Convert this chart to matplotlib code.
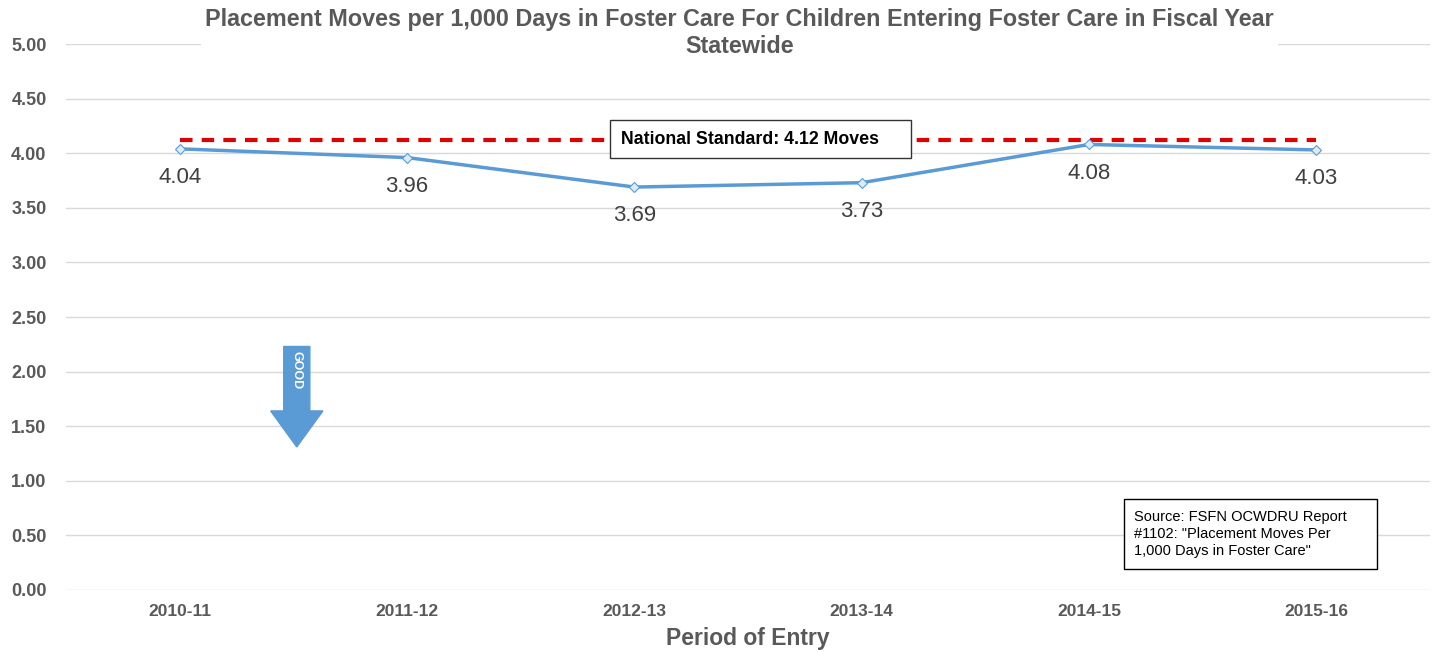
import matplotlib
matplotlib.use("Agg")
import matplotlib.pyplot as plt
from matplotlib.patches import FancyArrow, Rectangle

plt.rcParams['font.family'] = ['Liberation Sans', 'DejaVu Sans']

# ---- data ----
periods = ["2010-11", "2011-12", "2012-13", "2013-14", "2014-15", "2015-16"]
moves = [4.04, 3.96, 3.69, 3.73, 4.08, 4.03]
national_standard = 4.12
y_ticks = [0.0, 0.5, 1.0, 1.5, 2.0, 2.5, 3.0, 3.5, 4.0, 4.5, 5.0]

GRAY = "#595959"
BLUE = "#5B9BD5"

fig = plt.figure(figsize=(14.39, 6.52), dpi=100)
ax = fig.add_axes([0.0459, 0.0951, 0.9478, 0.8374])

x = list(range(len(periods)))
ax.plot(x, [national_standard] * len(x), color="#E00000", lw=3, ls=(0, (3, 2.2)), zorder=3)
ax.plot(x, moves, color=BLUE, lw=2.5, marker="D", ms=5, mfc="#DDEBF7", mec=BLUE, mew=0.8, zorder=4)

for xi, v in zip(x, moves):
    ax.annotate(f"{v:.2f}", (xi, v), xytext=(0, -13), textcoords="offset points",
                ha="center", va="top", fontsize=16, color="#404040")

ax.set_xlim(-0.5, len(periods) - 0.5)
ax.set_ylim(0, 5)
ax.set_yticks(y_ticks)
ax.set_yticklabels([f"{t:.2f}" for t in y_ticks], fontsize=13, fontweight="bold", color=GRAY)
ax.set_xticks(x)
ax.set_xticklabels(periods, fontsize=12.5, fontweight="bold", color=GRAY)
ax.tick_params(axis="both", length=0)
ax.tick_params(axis="y", pad=14)
ax.tick_params(axis="x", pad=10)
ax.grid(axis="y", color="#D9D9D9", lw=1)
ax.set_axisbelow(True)
for s in ax.spines.values():
    s.set_visible(False)

ax.set_xlabel("Period of Entry", fontsize=16.5, fontweight="bold", color=GRAY, labelpad=6)

# title with white background hiding the top gridline
fig.text(0.514, 0.987, "Placement Moves per 1,000 Days in Foster Care For Children Entering Foster Care in Fiscal Year\nStatewide",
         ha="center", va="top", fontsize=16.8, fontweight="bold", color=GRAY, linespacing=1.2,
         bbox=dict(facecolor="white", edgecolor="none", pad=3), zorder=10)

# "GOOD" arrow
ax.add_patch(FancyArrow(0.515, 2.23, 0, -0.92, width=0.115, head_width=0.23, head_length=0.33,
                        length_includes_head=True, color=BLUE, zorder=5))
ax.text(0.515, 2.01, "GOOD", rotation=-90, ha="center", va="center", fontsize=9,
        fontweight="bold", color="white", zorder=6)

# national standard label
ax.add_patch(Rectangle((1.894, 3.956), 1.322, 0.348, facecolor="white", edgecolor="#333333",
                       lw=1, zorder=5))
ax.text(1.943, 4.13, "National Standard: 4.12 Moves", ha="left", va="center",
        fontsize=12.8, fontweight="bold", color="black", zorder=6)

# source box
ax.add_patch(Rectangle((4.154, 0.192), 1.115, 0.641, facecolor="white", edgecolor="black",
                       lw=1, zorder=5))
ax.text(4.198, 0.51, 'Source: FSFN OCWDRU Report\n#1102: "Placement Moves Per\n1,000 Days in Foster Care"',
        ha="left", va="center", fontsize=10.5, color="black", linespacing=1.28, zorder=6)

fig.savefig("out.png", dpi=100)
